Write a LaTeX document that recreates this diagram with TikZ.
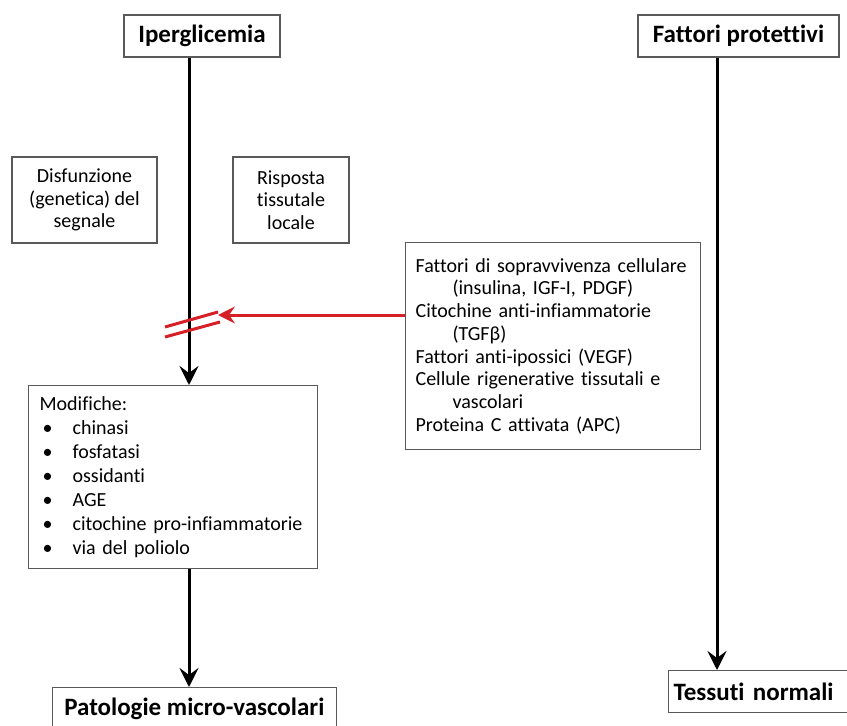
\documentclass[tikz,border=0pt]{standalone}
\usepackage{fontspec}
\setmainfont{Carlito}[Ligatures=NoCommon]
\usepackage{xcolor}
\usetikzlibrary{arrows.meta,positioning}

\definecolor{boxgray}{gray}{0.35}
\definecolor{inhibred}{RGB}{214,32,40}

\tikzset{
  box/.style={draw=boxgray, line width=1.2pt, inner xsep=10pt, inner ysep=6pt,
    font=\fontsize{20}{22.5}\selectfont},
  headbox/.style={box, font=\bfseries\fontsize{25}{30}\selectfont, minimum height=42pt},
  flow/.style={line width=3pt, -{Stealth[length=19pt,width=19pt,inset=7pt]}},
  block/.style={draw=inhibred, line width=3pt, -{Stealth[length=17pt,width=17pt,inset=6pt]}},
  slash/.style={draw=inhibred, line width=3pt},
}

\begin{document}
\begin{tikzpicture}[x=1pt,y=-1pt]
  \useasboundingbox (0,0) rectangle (847,726);
  \clip (0,0) rectangle (847,726);

  % left column
  \node[headbox, minimum width=156pt] (iper) at (202,36) {Iperglicemia};
  \node[box, minimum width=145pt, minimum height=86pt, align=center] (disfunz) at (84.5,200)
    {Disfunzione\\(genetica) del\\segnale};
  \node[box, minimum width=116pt, minimum height=86pt, align=center] (risposta) at (291,200)
    {Risposta\\tissutale\\locale};
  \node[box, anchor=north west, inner xsep=11pt, text width=267pt, minimum height=183pt,
    align=left, font=\fontsize{20}{24}\selectfont] (modif) at (28,385)
    {Modifiche:\\
     \hspace*{3pt}\makebox[30pt][l]{•}chinasi\\
     \hspace*{3pt}\makebox[30pt][l]{•}fosfatasi\\
     \hspace*{3pt}\makebox[30pt][l]{•}ossidanti\\
     \hspace*{3pt}\makebox[30pt][l]{•}AGE\\
     \hspace*{3pt}\makebox[30pt][l]{•}citochine pro-infiammatorie\\
     \hspace*{3pt}\makebox[30pt][l]{•}via del poliolo};
  \node[headbox, anchor=north east, inner xsep=12pt] (pato) at (337,687) {Patologie micro-vascolari};

  % right column
  \node[headbox, minimum width=201pt] (protett) at (738.5,36) {Fattori protettivi};
  \node[box, anchor=north west, inner xsep=10pt, text width=275pt, minimum height=207pt,
    align=left, font=\fontsize{20}{22.7}\selectfont] (fattlist) at (405,242)
    {Fattori di sopravvivenza cellulare\\
     \hspace*{37pt}(insulina, IGF-I, PDGF)\\
     Citochine anti-infiammatorie\\
     \hspace*{37pt}(TGFβ)\\
     Fattori anti-ipossici (VEGF)\\
     Cellule rigenerative tissutali e\\
     \hspace*{37pt}vascolari\\
     Proteina C attivata (APC)};
  \node[headbox, anchor=north west, inner xsep=5pt, text width=190pt, align=left] (tess) at (668,670)
    {Tessuti normali};

  \coordinate (lspine) at (189,0);
  \coordinate (rspine) at (717,0);
  \coordinate (hit) at (218,315);

  \draw[flow] (iper.south -| lspine) -- (modif.north -| lspine);
  \draw[flow] (modif.south -| lspine) -- (pato.north -| lspine);
  \draw[flow] (protett.south -| rspine) -- (tess.north -| rspine);

  % inhibition
  \draw[block] (fattlist.west |- hit) -- (hit);
  \draw[slash] (165,327) -- (218,312);
  \draw[slash] (165,337) -- (220,322);
\end{tikzpicture}
\end{document}
